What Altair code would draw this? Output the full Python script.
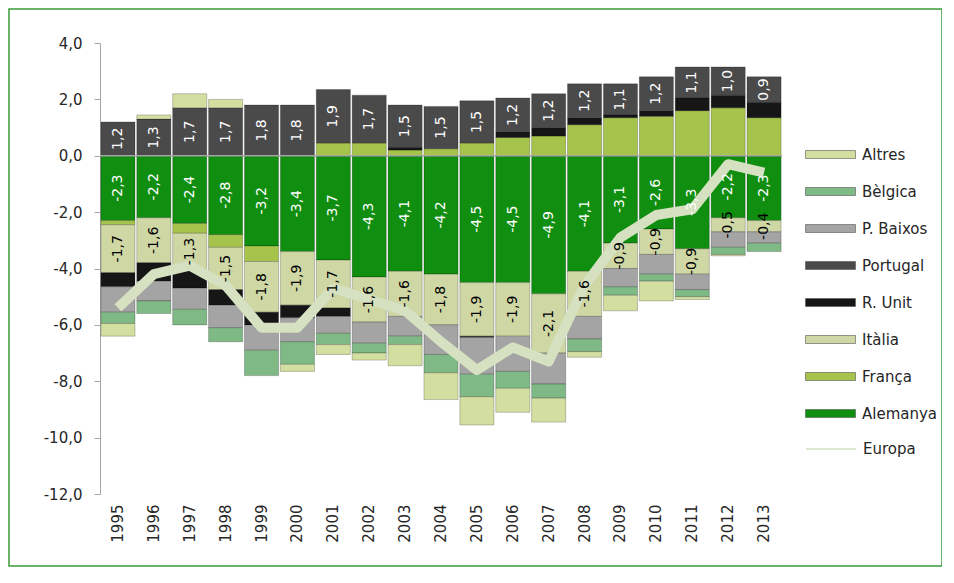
import altair as alt
import pandas as pd

years = [str(y) for y in range(1995, 2014)]

# stacked components (signed values)
alemanya = [-2.3, -2.2, -2.4, -2.8, -3.2, -3.4, -3.7, -4.3, -4.1, -4.2, -4.5, -4.5, -4.9, -4.1, -3.1, -2.6, -3.3, -2.2, -2.3]
franca = [-0.15, 0.0, -0.35, -0.45, -0.55, 0.0, 0.45, 0.45, 0.2, 0.25, 0.45, 0.65, 0.7, 1.1, 1.35, 1.4, 1.6, 1.7, 1.35]
italia = [-1.7, -1.6, -1.3, -1.5, -1.8, -1.9, -1.7, -1.6, -1.6, -1.8, -1.9, -1.9, -2.1, -1.6, -0.9, -0.9, -0.9, -0.5, -0.4]
r_unit = [-0.5, -0.65, -0.65, -0.55, -0.45, -0.45, -0.3, 0.0, 0.1, 0.0, -0.05, 0.2, 0.3, 0.25, 0.1, 0.2, 0.45, 0.45, 0.55]
portugal = [1.2, 1.3, 1.7, 1.7, 1.8, 1.8, 1.9, 1.7, 1.5, 1.5, 1.5, 1.2, 1.2, 1.2, 1.1, 1.2, 1.1, 1.0, 0.9]
p_baixos = [-0.9, -0.7, -0.75, -0.8, -0.9, -0.85, -0.6, -0.75, -0.7, -1.05, -1.3, -1.25, -1.1, -0.8, -0.65, -0.7, -0.55, -0.55, -0.4]
belgica = [-0.4, -0.45, -0.55, -0.5, -0.9, -0.8, -0.4, -0.35, -0.3, -0.65, -0.8, -0.6, -0.5, -0.45, -0.3, -0.25, -0.25, -0.25, -0.3]
altres = [-0.45, 0.15, 0.5, 0.3, 0.0, -0.25, -0.35, -0.25, -0.75, -0.95, -1.0, -0.85, -0.85, -0.2, -0.55, -0.7, -0.1, -0.05, 0.0]

# Europa total line
europa = [-5.4, -4.2, -3.9, -4.6, -6.1, -6.1, -4.7, -5.1, -5.5, -6.6, -7.6, -6.8, -7.3, -4.6, -2.9, -2.1, -1.9, -0.3, -0.6]

series_names = ["Alemanya", "França", "Itàlia", "R. Unit", "Portugal", "P. Baixos", "Bèlgica", "Altres"]
series_values = [alemanya, franca, italia, r_unit, portugal, p_baixos, belgica, altres]
labelled = {"Alemanya": "white", "Itàlia": "black", "Portugal": "white"}

legend_order = ["Altres", "Bèlgica", "P. Baixos", "Portugal", "R. Unit", "Itàlia", "França", "Alemanya"]
legend_colors = ["#d3dfa0", "#7fb986", "#a4a4a4", "#4a4a4a", "#161616", "#cfd7a5", "#a6c44c", "#0f8e0f"]

rows = []
for i, (name, vals) in enumerate(zip(series_names, series_values)):
    for yr, v in zip(years, vals):
        if v == 0:
            continue
        lab = f"{v:.1f}".replace(".", ",") if name in labelled else ""
        rows.append({"year": yr, "series": name, "value": v, "order": i,
                     "label": lab, "lcolor": labelled.get(name, "black")})
df = pd.DataFrame(rows)
df_line = pd.DataFrame({"year": years, "value": europa, "name": "Europa"})

font = "DejaVu Sans"

x_enc = alt.X("year:O", title=None,
              scale=alt.Scale(paddingInner=0.05, paddingOuter=0.025),
              axis=alt.Axis(labelAngle=270, domain=False, ticks=False, labelPadding=10,
                            labelFontSize=15, labelColor="#262626", labelFont=font))
y_scale = alt.Scale(domain=[-12, 4], nice=False, zero=False)

base = alt.Chart(df).transform_stack(
    stack="value", groupby=["year"], sort=[alt.SortField("order", order="ascending")],
    as_=["v0", "v1"]
).transform_calculate(mid="(datum.v0 + datum.v1) / 2")

bars = base.mark_bar(stroke="#000000", strokeOpacity=0.28, strokeWidth=0.8).encode(
    x=x_enc,
    y=alt.Y("v0:Q", scale=y_scale, title=None,
            axis=alt.Axis(values=[-12, -10, -8, -6, -4, -2, 0, 2, 4], grid=False,
                          labelExpr="replace(replace(format(datum.value, '.1f'), '.', ','), '\u2212', '-')",
                          domainColor="#a6a6a6", tickColor="#a6a6a6", tickSize=6,
                          labelFontSize=15, labelColor="#262626", labelFont=font,
                          labelPadding=12)),
    y2="v1:Q",
    fill=alt.Fill("series:N", scale=alt.Scale(domain=legend_order, range=legend_colors),
                  legend=alt.Legend(title=None, orient="none", legendX=705, legendY=86,
                                    symbolType="M-1,-0.16H1V0.16H-1Z", symbolSize=2500,
                                    symbolStrokeWidth=0.6, symbolStrokeColor="#555555",
                                    labelFontSize=15, labelColor="#262626", labelFont=font,
                                    labelOffset=6, rowPadding=3, padding=0)),
)

zero = alt.Chart(pd.DataFrame({"z": [0]})).mark_rule(color="#a6a6a6", strokeWidth=1.5).encode(
    y=alt.Y("z:Q", scale=y_scale)
)

line = alt.Chart(df_line).mark_line(strokeWidth=10, strokeJoin="round").encode(
    x=x_enc,
    y=alt.Y("value:Q", scale=y_scale),
    stroke=alt.Stroke("name:N", scale=alt.Scale(domain=["Europa"], range=["#d5e1c1"]),
                      legend=alt.Legend(title=None, orient="none", legendX=705, legendY=380,
                                        symbolType="stroke", symbolSize=2500,
                                        symbolStrokeWidth=1.5, labelFontSize=15,
                                        labelColor="#262626", labelFont=font,
                                        labelOffset=6, padding=0)),
)

labels = base.transform_filter("datum.label != ''").mark_text(
    angle=270, fontSize=14, font=font
).encode(
    x=x_enc,
    y=alt.Y("mid:Q", scale=y_scale),
    text="label:N",
    color=alt.Color("lcolor:N", scale=None),
)

frame = alt.Chart(pd.DataFrame({"a": [0]})).mark_rect(
    fill="white", fillOpacity=0, stroke="#3a9a3a", strokeWidth=1.5
).encode(x=alt.value(-91), x2=alt.value(842), y=alt.value(-34), y2=alt.value(523))

chart = alt.layer(frame, bars, zero, line, labels).properties(
    width=682, height=451,
    autosize=alt.AutoSizeParams(type="none"),
    padding={"left": 92, "top": 35, "right": 160, "bottom": 74},
).configure_view(stroke=None)

chart.save("out.html", embed_options={"renderer": "svg", "actions": False})
